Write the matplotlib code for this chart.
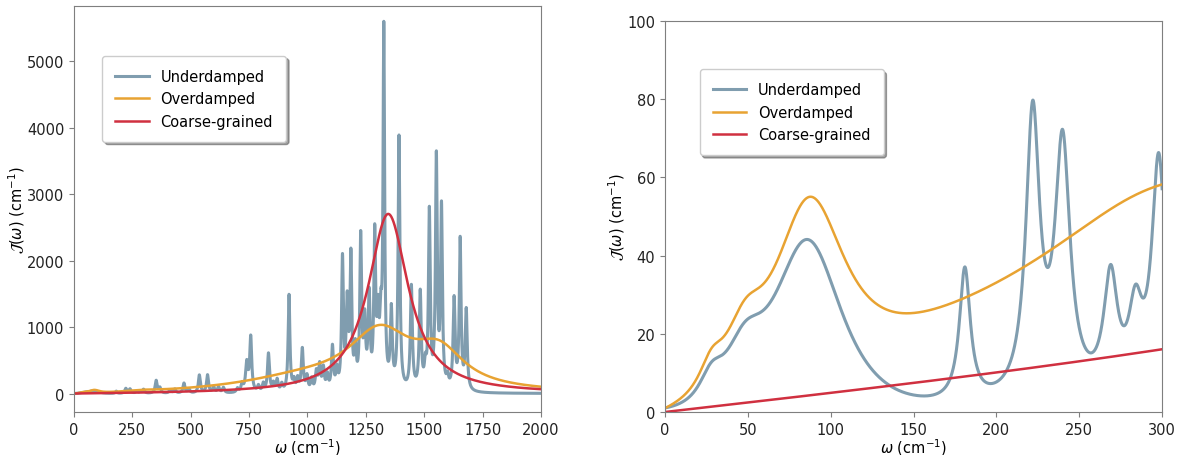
import numpy as np
import matplotlib.pyplot as plt

# Low-frequency bands (sech shape): centre, height, width (cm^-1)
ud_band_centre = [28, 48, 86]
ud_band_height = [6, 12, 43]
ud_band_width = [6, 10, 18]

# Underdamped modes: centre frequency, peak height, damping (cm^-1)
ud_centre = [181, 222, 240, 269, 284, 298,
             352, 368, 412, 432, 471, 492, 537, 572, 598, 619, 640,
             700, 720, 740, 757, 790, 811, 833, 854, 870, 890,
             921, 942, 958, 978, 998, 1018, 1038, 1052, 1068, 1085,
             1107, 1126, 1150, 1170, 1186, 1205, 1228, 1245, 1264, 1288,
             1302, 1314, 1327, 1359, 1392, 1445, 1483, 1505, 1522, 1552,
             1574, 1600, 1628, 1654, 1680]
ud_height = [34, 72, 64, 29, 19, 59,
             190, 80, 50, 60, 150, 60, 270, 270, 90, 90, 80,
             60, 120, 430, 820, 90, 120, 580, 120, 180, 110,
             1460, 150, 180, 640, 220, 180, 280, 380, 330, 220,
             650, 280, 1950, 1250, 1950, 550, 2250, 950, 1350, 2250,
             950, 850, 5350, 1150, 3800, 1550, 1450, 300, 2650, 3450,
             2700, 150, 1350, 2250, 1200]
ud_gamma = [8, 10, 11, 10, 10, 10,
            10, 10, 10, 10, 10, 10, 10, 10, 10, 10, 10,
            10, 10, 12, 10, 10, 10, 10, 10, 10, 10,
            9, 10, 10, 10, 10, 10, 10, 10, 10, 10,
            10, 10, 9, 10, 9, 10, 9, 10, 10, 9,
            10, 10, 8, 10, 9, 10, 10, 10, 9, 9,
            9, 10, 10, 9, 10]

# Overdamped: same low-frequency bands plus broad modes
od_band_centre = [28, 48, 87]
od_band_height = [6, 12, 42]
od_band_width = [6, 10, 18]
od_centre = [300, 1050, 1320, 1570]
od_height = [15, 190, 820, 510]
od_gamma = [150, 700, 330, 260]

# Coarse-grained single mode
cg_centre = [1350]
cg_height = [2700]
cg_gamma = [210]

colors = {"Underdamped": "#809daf", "Overdamped": "#e8a332", "Coarse-grained": "#d03040"}


def brownian(w, centres, heights, gammas):
    J = np.zeros_like(w)
    for c, h, g in zip(centres, heights, gammas):
        J += h * g**2 * w * c / ((c**2 - w**2)**2 + g**2 * w**2)
    return J


def bands(w, centres, heights, widths):
    J = np.zeros_like(w)
    for c, h, s in zip(centres, heights, widths):
        J += h / np.cosh((w - c) / s)
    return J


w = np.linspace(0, 2000, 40001)
J_ud = bands(w, ud_band_centre, ud_band_height, ud_band_width) + brownian(w, ud_centre, ud_height, ud_gamma)
J_od = bands(w, od_band_centre, od_band_height, od_band_width) + brownian(w, od_centre, od_height, od_gamma)
J_cg = brownian(w, cg_centre, cg_height, cg_gamma)
series = [("Underdamped", J_ud, 2.2), ("Overdamped", J_od, 1.8), ("Coarse-grained", J_cg, 1.8)]

plt.rcParams['font.size'] = 10.5
fig = plt.figure(figsize=(11.91, 4.56), dpi=100)
ax1 = fig.add_axes([0.0621, 0.0943, 0.3921, 0.8903])
ax2 = fig.add_axes([0.5584, 0.0943, 0.4173, 0.8575])

for ax in (ax1, ax2):
    for name, J, lw in series:
        ax.plot(w, J, color=colors[name], lw=lw, label=name)
    for s in ax.spines.values():
        s.set_color('#7f7f7f')
    ax.tick_params(color='#7f7f7f', labelcolor='#222222')
    ax.set_xlabel(r'$\omega$ (cm$^{-1}$)', labelpad=-0.5)
    ax.set_ylabel(r'$\mathcal{J}(\omega)$ (cm$^{-1}$)', labelpad=0)

ax1.set_xlim(0, 2000)
ax1.set_ylim(-278, 5834)
ax1.set_xticks(np.arange(0, 2001, 250))
ax1.set_yticks(np.arange(0, 5001, 1000))
ax1.legend(loc='upper left', bbox_to_anchor=(0.045, 0.895), shadow=True,
           framealpha=1, borderpad=0.9, handlelength=2.3, labelspacing=0.5)

ax2.set_xlim(0, 300)
ax2.set_ylim(0, 100)
ax2.set_xticks(np.arange(0, 301, 50))
ax2.set_yticks(np.arange(0, 101, 20))
ax2.legend(loc='upper left', bbox_to_anchor=(0.055, 0.895), shadow=True,
           framealpha=1, borderpad=0.9, handlelength=2.3, labelspacing=0.5)

fig.savefig('out.png', dpi=100)
